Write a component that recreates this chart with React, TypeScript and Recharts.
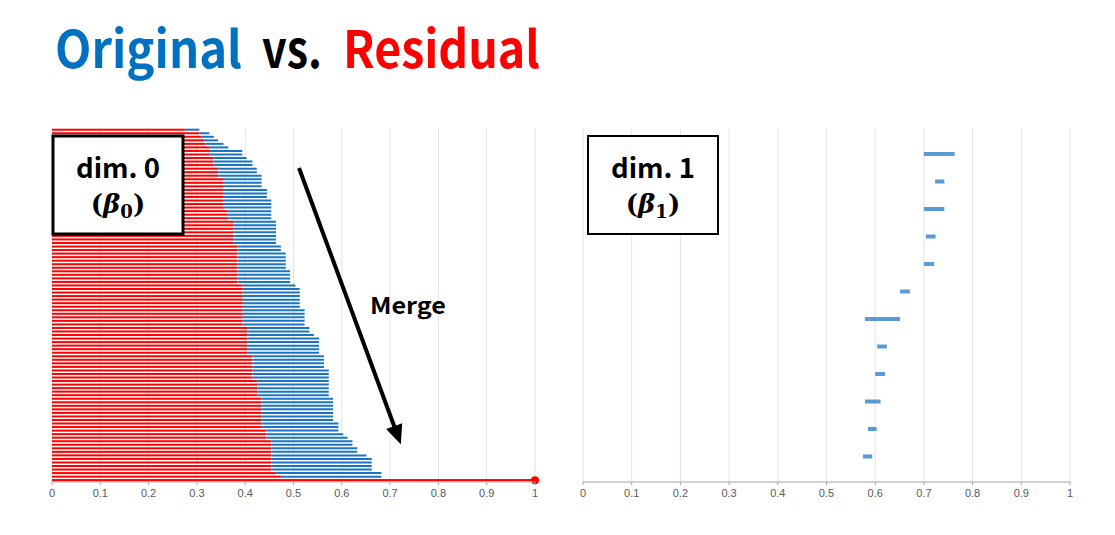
import { BarChart, Bar, XAxis, YAxis, CartesianGrid } from 'recharts';

// dim. 0 barcode, top row first. original = death before, residual = death after
const originalDeath = [
  0.305, 0.326, 0.335, 0.344, 0.355, 0.365, 0.394, 0.394, 0.403, 0.415,
  0.415, 0.424, 0.424, 0.434, 0.434, 0.434, 0.434, 0.445, 0.445, 0.445,
  0.454, 0.454, 0.454, 0.454, 0.454, 0.454, 0.464, 0.464, 0.464, 0.464,
  0.464, 0.464, 0.464, 0.474, 0.474, 0.484, 0.484, 0.484, 0.484, 0.484,
  0.493, 0.493, 0.493, 0.493, 0.504, 0.513, 0.513, 0.513, 0.513, 0.513,
  0.513, 0.523, 0.523, 0.523, 0.523, 0.523, 0.533, 0.533, 0.542, 0.553,
  0.553, 0.553, 0.553, 0.553, 0.563, 0.563, 0.563, 0.563, 0.573, 0.573,
  0.573, 0.573, 0.573, 0.573, 0.573, 0.573, 0.582, 0.582, 0.582, 0.582,
  0.582, 0.582, 0.582, 0.593, 0.593, 0.593, 0.603, 0.612, 0.622, 0.622,
  0.632, 0.632, 0.651, 0.662, 0.662, 0.662, 0.662, 0.682, 0.682,
  1, // the bar that never dies (drawn to the axis end)
];
const residualDeath = [
  0.275, 0.305, 0.31, 0.315, 0.318, 0.325, 0.325, 0.325, 0.334, 0.334,
  0.334, 0.344, 0.344, 0.344, 0.354, 0.354, 0.354, 0.354, 0.354, 0.354,
  0.354, 0.354, 0.354, 0.364, 0.364, 0.364, 0.375, 0.375, 0.375, 0.375,
  0.375, 0.375, 0.375, 0.384, 0.384, 0.384, 0.384, 0.384, 0.384, 0.384,
  0.384, 0.384, 0.384, 0.384, 0.395, 0.395, 0.395, 0.395, 0.395, 0.395,
  0.395, 0.395, 0.395, 0.395, 0.395, 0.395, 0.404, 0.404, 0.404, 0.404,
  0.404, 0.404, 0.404, 0.404, 0.415, 0.415, 0.415, 0.415, 0.415, 0.415,
  0.415, 0.425, 0.425, 0.425, 0.425, 0.425, 0.434, 0.434, 0.434, 0.434,
  0.434, 0.434, 0.434, 0.434, 0.434, 0.444, 0.444, 0.444, 0.454, 0.454,
  0.454, 0.454, 0.454, 0.454, 0.454, 0.454, 0.454, 0.464, 0.474,
  1,
];

// dim. 1 barcode (birth, death), top row first
const dim1Birth = [0.7, 0.723, 0.7, 0.704, 0.7, 0.651, 0.579, 0.604, 0.6, 0.579, 0.585, 0.575];
const dim1Death = [0.763, 0.742, 0.742, 0.724, 0.721, 0.671, 0.651, 0.624, 0.62, 0.611, 0.603, 0.594];

const xTicks = [0, 0.1, 0.2, 0.3, 0.4, 0.5, 0.6, 0.7, 0.8, 0.9, 1];

const dim0Data = originalDeath.map((d, i) => ({
  row: 'r' + i,
  residual: residualDeath[i],
  extra: d - residualDeath[i],
  inf: i === originalDeath.length - 1,
}));

const dim1Data = dim1Birth.map((b, i) => ({
  row: 'h' + i,
  start: b,
  len: dim1Death[i] - b,
}));

const RED = '#ff0000';
const BLUE = '#1a74c6';
const tickStyle = { fontSize: 11, fill: '#595959', fontFamily: '"Liberation Sans Narrow", "Liberation Sans", Arial, sans-serif' };

const RedBar = (props: any) => {
  const { x, y, width, height, payload } = props;
  if (payload && payload.inf) {
    // infinite bar: thin line with a dot at the end
    const cy = y + height / 2;
    return (
      <g>
        <rect x={x} y={cy - 1.1} width={width} height={2.2} fill={RED} />
        <circle cx={x + width} cy={cy} r={4} fill={RED} />
      </g>
    );
  }
  return <rect x={x} y={y} width={Math.max(width, 0)} height={height} fill={RED} />;
};

const font = '"Noto Sans CJK KR", "Noto Sans", sans-serif';

const DimBox = ({ x, y, w, h, n, sw }: { x: number; y: number; w: number; h: number; n: string; sw: number }) => {
  const cx = x + w / 2;
  return (
    <g>
      <rect x={x} y={y} width={w} height={h} fill="white" stroke="black" strokeWidth={sw} />
      <text
        x={cx - 42}
        y={y + 42}
        fontFamily={font}
        fontWeight={700}
        fontSize={27}
        fill="black"
        textLength={84}
        lengthAdjust="spacingAndGlyphs"
      >
        dim. {n}
      </text>
      <text x={cx} y={y + 77} textAnchor="middle" fontFamily="DejaVu Serif, serif" fontWeight={700} fontSize={26} fill="black">
        (<tspan fontStyle="italic">β</tspan>
        <tspan fontSize={18} dy={5}>{n}</tspan>
        <tspan dy={-5}>)</tspan>
      </text>
    </g>
  );
};

export default function App() {
  return (
    <div style={{ position: 'relative', width: 1115, height: 535, background: 'white' }}>
      <style>{'body{margin:0}'}</style>
      <div style={{ position: 'absolute', left: 0, top: 0 }}>
        <BarChart
          width={560}
          height={535}
          layout="vertical"
          data={dim0Data}
          margin={{ top: 128, right: 25, bottom: 33, left: 52 }}
          barCategoryGap="20%"
        >
          <CartesianGrid horizontal={false} stroke="#e4e4e4" />
          <XAxis
            type="number"
            domain={[0, 1]}
            ticks={xTicks}
            height={20}
            tick={tickStyle}
            tickSize={3}
            tickMargin={4}
            axisLine={{ stroke: '#a6a6a6' }}
            tickLine={{ stroke: '#a6a6a6' }}
          />
          <YAxis type="category" dataKey="row" width={0} tick={false} tickLine={false} axisLine={{ stroke: '#a6a6a6' }} />
          <Bar dataKey="residual" stackId="a" fill={RED} shape={RedBar} isAnimationActive={false} />
          <Bar dataKey="extra" stackId="a" fill={BLUE} isAnimationActive={false} />
        </BarChart>
      </div>
      <div style={{ position: 'absolute', left: 560, top: 0 }}>
        <BarChart
          width={530}
          height={535}
          layout="vertical"
          data={dim1Data}
          margin={{ top: 128, right: 20, bottom: 33, left: 23 }}
          barSize={4}
        >
          <CartesianGrid horizontal={false} stroke="#e4e4e4" />
          <XAxis
            type="number"
            domain={[0, 1]}
            ticks={xTicks}
            height={20}
            tick={tickStyle}
            tickSize={3}
            tickMargin={4}
            axisLine={{ stroke: '#a6a6a6' }}
            tickLine={{ stroke: '#a6a6a6' }}
          />
          <YAxis
            type="category"
            dataKey="row"
            width={0}
            tick={false}
            tickLine={false}
            padding={{ top: 12, bottom: 12 }}
            axisLine={{ stroke: '#d0d0d0' }}
          />
          <Bar dataKey="start" stackId="b" fill="transparent" isAnimationActive={false} />
          <Bar dataKey="len" stackId="b" fill="#5b9bd5" isAnimationActive={false} />
        </BarChart>
      </div>
      <svg width={1115} height={535} style={{ position: 'absolute', left: 0, top: 0, pointerEvents: 'none' }}>
        <text y={68} fontFamily={font} fontWeight={700} fontSize={51}>
          <tspan x={55} fill="#0070c0" textLength={187} lengthAdjust="spacingAndGlyphs">Original</tspan>
          <tspan x={262} fill="#000000" textLength={60} lengthAdjust="spacingAndGlyphs">vs.</tspan>
          <tspan x={343} fill={RED} textLength={197} lengthAdjust="spacingAndGlyphs">Residual</tspan>
        </text>
        <DimBox x={53} y={136} w={130} h={98} n="0" sw={3} />
        <DimBox x={588} y={136} w={130} h={98} n="1" sw={2} />
        <line x1={299} y1={168} x2={394.5} y2={427} stroke="black" strokeWidth={4} />
        <polygon points="400,442 387.9,429.4 401.1,424.6" fill="black" stroke="black" strokeWidth={2} strokeLinejoin="miter" />
        <text
          x={370}
          y={314}
          fontFamily={font}
          fontWeight={700}
          fontSize={23}
          fill="black"
          textLength={76}
          lengthAdjust="spacingAndGlyphs"
        >
          Merge
        </text>
      </svg>
    </div>
  );
}
